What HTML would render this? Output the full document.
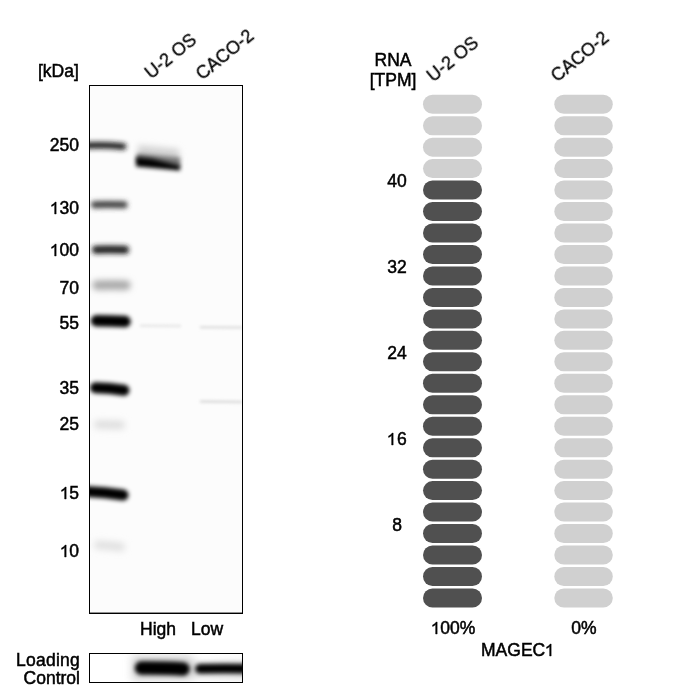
<!DOCTYPE html>
<html><head><meta charset="utf-8">
<style>
html,body{margin:0;padding:0;background:#fff;}
body{width:678px;height:687px;position:relative;overflow:hidden;font-family:"Liberation Sans",sans-serif;color:#000;}
.t{position:absolute;will-change:transform;line-height:1;white-space:nowrap;-webkit-text-stroke:0.5px #000;}
.rot{position:absolute;will-change:transform;font-size:18px;line-height:1;white-space:nowrap;transform-origin:0 100%;transform:rotate(-39deg);-webkit-text-stroke:0.3px #000;}
svg.main{position:absolute;left:0;top:0;}
</style></head><body>
<svg class="main" width="678" height="687" viewBox="0 0 678 687">
<defs>
<filter id="g12" filterUnits="userSpaceOnUse" x="0" y="0" width="678" height="687"><feGaussianBlur stdDeviation="1.2"/></filter>
<filter id="g15" filterUnits="userSpaceOnUse" x="0" y="0" width="678" height="687"><feGaussianBlur stdDeviation="1.5"/></filter>
<filter id="g17" filterUnits="userSpaceOnUse" x="0" y="0" width="678" height="687"><feGaussianBlur stdDeviation="1.7"/></filter>
<filter id="g20" filterUnits="userSpaceOnUse" x="0" y="0" width="678" height="687"><feGaussianBlur stdDeviation="2.0"/></filter>
<filter id="g22" filterUnits="userSpaceOnUse" x="0" y="0" width="678" height="687"><feGaussianBlur stdDeviation="2.2"/></filter>
<filter id="g25" filterUnits="userSpaceOnUse" x="0" y="0" width="678" height="687"><feGaussianBlur stdDeviation="2.5"/></filter>
<filter id="g30" filterUnits="userSpaceOnUse" x="0" y="0" width="678" height="687"><feGaussianBlur stdDeviation="3.0"/></filter>
<filter id="g35" filterUnits="userSpaceOnUse" x="0" y="0" width="678" height="687"><feGaussianBlur stdDeviation="3.5"/></filter>
<filter id="g40" filterUnits="userSpaceOnUse" x="0" y="0" width="678" height="687"><feGaussianBlur stdDeviation="4.0"/></filter>
<clipPath id="blot"><rect x="90" y="86" width="152" height="526"/></clipPath>
<clipPath id="lc"><rect x="90" y="654" width="152" height="28"/></clipPath>
</defs>
<rect x="89.5" y="85.5" width="153" height="528" fill="#fcfcfc" stroke="#000" stroke-width="1"/>
<rect x="90" y="612" width="152" height="1" fill="#909090"/>
<g clip-path="url(#blot)">
<path d="M87,145.5 Q104,144.5 123,146.4" stroke="#1a1a1a" stroke-width="6.5" stroke-linecap="round" fill="none" filter="url(#g25)"/>
<path d="M94.5,204.7 Q108,204.2 124,204.8" stroke="#404040" stroke-width="7" stroke-linecap="round" fill="none" filter="url(#g25)"/>
<path d="M96,249.7 Q110,249.3 125,249.8" stroke="#1e1e1e" stroke-width="8" stroke-linecap="round" fill="none" filter="url(#g25)"/>
<path d="M97,285.2 Q112,285 126,285.2" stroke="#a8a8a8" stroke-width="9.5" stroke-linecap="round" fill="none" filter="url(#g30)"/>
<path d="M96.5,320.8 Q110,320.8 125,321.5" stroke="#000" stroke-width="11.5" stroke-linecap="round" fill="none" filter="url(#g22)"/>
<path d="M95.5,387.8 Q110,388.2 124,390.3" stroke="#000" stroke-width="11" stroke-linecap="round" fill="none" filter="url(#g22)"/>
<path d="M98,424.6 Q110,424.6 121,425" stroke="#dcdcdc" stroke-width="8" stroke-linecap="round" fill="none" filter="url(#g35)"/>
<path d="M86,491.5 Q105,492.4 123,495" stroke="#000" stroke-width="11" stroke-linecap="round" fill="none" filter="url(#g22)"/>
<path d="M98,544.9 Q110,545.5 121,547" stroke="#dedede" stroke-width="8" stroke-linecap="round" fill="none" filter="url(#g35)"/>
<path d="M138,145 L179,149 L180,165 L138,158 Z" fill="#d3d3d3" opacity="1" filter="url(#g30)"/>
<path d="M137,153.5 L180,157.5 L180,167 L137,162 Z" fill="#7a7a7a" opacity="1" filter="url(#g22)"/>
<path d="M136,157 L152,158.8 L180,165.2 L180,170.5 L136,166.5 Z" fill="#000" opacity="1" filter="url(#g20)"/>
<path d="M141,325.7 Q160,325.7 180,326" stroke="#e6e6e6" stroke-width="2.5" stroke-linecap="round" fill="none" filter="url(#g15)"/>
<path d="M201,327.2 Q220,327.4 241,327.6" stroke="#dedede" stroke-width="2.5" stroke-linecap="round" fill="none" filter="url(#g15)"/>
<path d="M201,401.6 Q220,401.8 241,402" stroke="#dadada" stroke-width="2.5" stroke-linecap="round" fill="none" filter="url(#g15)"/>
</g>
<rect x="89.5" y="653.5" width="153" height="29" fill="#fff" stroke="#000" stroke-width="1"/>
<g clip-path="url(#lc)">
<path d="M132,656 L190,656 L196,664 L250,662 L250,678 L196,676 L190,680 L132,680 Z" fill="#d0d0d0" opacity="1" filter="url(#g40)"/>
<path d="M141.5,668 Q165,667.8 183,669" stroke="#000" stroke-width="13.5" stroke-linecap="round" fill="none" filter="url(#g22)"/>
<path d="M200,668.8 Q225,668.2 250,668.8" stroke="#000" stroke-width="9.5" stroke-linecap="round" fill="none" filter="url(#g22)"/>
</g>
<rect x="423" y="94.70" width="59" height="19" rx="9.5" fill="#d0d0d0"/>
<rect x="554.3" y="94.70" width="58.5" height="19" rx="9.5" fill="#d0d0d0"/>
<rect x="423" y="116.17" width="59" height="19" rx="9.5" fill="#d0d0d0"/>
<rect x="554.3" y="116.17" width="58.5" height="19" rx="9.5" fill="#d0d0d0"/>
<rect x="423" y="137.64" width="59" height="19" rx="9.5" fill="#d0d0d0"/>
<rect x="554.3" y="137.64" width="58.5" height="19" rx="9.5" fill="#d0d0d0"/>
<rect x="423" y="159.10" width="59" height="19" rx="9.5" fill="#d0d0d0"/>
<rect x="554.3" y="159.10" width="58.5" height="19" rx="9.5" fill="#d0d0d0"/>
<rect x="423" y="180.57" width="59" height="19" rx="9.5" fill="#505050"/>
<rect x="554.3" y="180.57" width="58.5" height="19" rx="9.5" fill="#d0d0d0"/>
<rect x="423" y="202.04" width="59" height="19" rx="9.5" fill="#505050"/>
<rect x="554.3" y="202.04" width="58.5" height="19" rx="9.5" fill="#d0d0d0"/>
<rect x="423" y="223.51" width="59" height="19" rx="9.5" fill="#505050"/>
<rect x="554.3" y="223.51" width="58.5" height="19" rx="9.5" fill="#d0d0d0"/>
<rect x="423" y="244.98" width="59" height="19" rx="9.5" fill="#505050"/>
<rect x="554.3" y="244.98" width="58.5" height="19" rx="9.5" fill="#d0d0d0"/>
<rect x="423" y="266.44" width="59" height="19" rx="9.5" fill="#505050"/>
<rect x="554.3" y="266.44" width="58.5" height="19" rx="9.5" fill="#d0d0d0"/>
<rect x="423" y="287.91" width="59" height="19" rx="9.5" fill="#505050"/>
<rect x="554.3" y="287.91" width="58.5" height="19" rx="9.5" fill="#d0d0d0"/>
<rect x="423" y="309.38" width="59" height="19" rx="9.5" fill="#505050"/>
<rect x="554.3" y="309.38" width="58.5" height="19" rx="9.5" fill="#d0d0d0"/>
<rect x="423" y="330.85" width="59" height="19" rx="9.5" fill="#505050"/>
<rect x="554.3" y="330.85" width="58.5" height="19" rx="9.5" fill="#d0d0d0"/>
<rect x="423" y="352.32" width="59" height="19" rx="9.5" fill="#505050"/>
<rect x="554.3" y="352.32" width="58.5" height="19" rx="9.5" fill="#d0d0d0"/>
<rect x="423" y="373.78" width="59" height="19" rx="9.5" fill="#505050"/>
<rect x="554.3" y="373.78" width="58.5" height="19" rx="9.5" fill="#d0d0d0"/>
<rect x="423" y="395.25" width="59" height="19" rx="9.5" fill="#505050"/>
<rect x="554.3" y="395.25" width="58.5" height="19" rx="9.5" fill="#d0d0d0"/>
<rect x="423" y="416.72" width="59" height="19" rx="9.5" fill="#505050"/>
<rect x="554.3" y="416.72" width="58.5" height="19" rx="9.5" fill="#d0d0d0"/>
<rect x="423" y="438.19" width="59" height="19" rx="9.5" fill="#505050"/>
<rect x="554.3" y="438.19" width="58.5" height="19" rx="9.5" fill="#d0d0d0"/>
<rect x="423" y="459.66" width="59" height="19" rx="9.5" fill="#505050"/>
<rect x="554.3" y="459.66" width="58.5" height="19" rx="9.5" fill="#d0d0d0"/>
<rect x="423" y="481.12" width="59" height="19" rx="9.5" fill="#505050"/>
<rect x="554.3" y="481.12" width="58.5" height="19" rx="9.5" fill="#d0d0d0"/>
<rect x="423" y="502.59" width="59" height="19" rx="9.5" fill="#505050"/>
<rect x="554.3" y="502.59" width="58.5" height="19" rx="9.5" fill="#d0d0d0"/>
<rect x="423" y="524.06" width="59" height="19" rx="9.5" fill="#505050"/>
<rect x="554.3" y="524.06" width="58.5" height="19" rx="9.5" fill="#d0d0d0"/>
<rect x="423" y="545.53" width="59" height="19" rx="9.5" fill="#505050"/>
<rect x="554.3" y="545.53" width="58.5" height="19" rx="9.5" fill="#d0d0d0"/>
<rect x="423" y="567.00" width="59" height="19" rx="9.5" fill="#505050"/>
<rect x="554.3" y="567.00" width="58.5" height="19" rx="9.5" fill="#d0d0d0"/>
<rect x="423" y="588.46" width="59" height="19" rx="9.5" fill="#505050"/>
<rect x="554.3" y="588.46" width="58.5" height="19" rx="9.5" fill="#d0d0d0"/>
</svg>
<div class="t" style="left:38px;top:63px;font-size:17.5px;">[kDa]</div>
<div class="rot" style="left:152.5px;top:64px;">U-2 OS</div>
<div class="rot" style="left:203.5px;top:65px;">CACO-2</div>
<div class="t" style="left:19.400000000000006px;width:60px;text-align:right;top:137px;font-size:17.5px;">250</div>
<div class="t" style="left:19.400000000000006px;width:60px;text-align:right;top:200px;font-size:17.5px;"><svg class="one" viewBox="0 0 1139 1409" style="width:0.5562em;height:0.688em;vertical-align:baseline;overflow:visible"><path transform="matrix(1 0 0 -0.961 -40 1409)" d="M763,0 L583,0 L583,1147 Q518,1085 415,1024 Q312,964 222,930 L222,1104 Q384,1180 495,1280 Q606,1379 648,1466 L763,1466 Z" fill="#000" stroke="#000" stroke-width="50"/></svg>30</div>
<div class="t" style="left:19.400000000000006px;width:60px;text-align:right;top:242px;font-size:17.5px;"><svg class="one" viewBox="0 0 1139 1409" style="width:0.5562em;height:0.688em;vertical-align:baseline;overflow:visible"><path transform="matrix(1 0 0 -0.961 -40 1409)" d="M763,0 L583,0 L583,1147 Q518,1085 415,1024 Q312,964 222,930 L222,1104 Q384,1180 495,1280 Q606,1379 648,1466 L763,1466 Z" fill="#000" stroke="#000" stroke-width="50"/></svg>00</div>
<div class="t" style="left:19.400000000000006px;width:60px;text-align:right;top:280px;font-size:17.5px;">70</div>
<div class="t" style="left:19.400000000000006px;width:60px;text-align:right;top:315px;font-size:17.5px;">55</div>
<div class="t" style="left:19.400000000000006px;width:60px;text-align:right;top:380px;font-size:17.5px;">35</div>
<div class="t" style="left:19.400000000000006px;width:60px;text-align:right;top:416px;font-size:17.5px;">25</div>
<div class="t" style="left:19.400000000000006px;width:60px;text-align:right;top:485px;font-size:17.5px;"><svg class="one" viewBox="0 0 1139 1409" style="width:0.5562em;height:0.688em;vertical-align:baseline;overflow:visible"><path transform="matrix(1 0 0 -0.961 -40 1409)" d="M763,0 L583,0 L583,1147 Q518,1085 415,1024 Q312,964 222,930 L222,1104 Q384,1180 495,1280 Q606,1379 648,1466 L763,1466 Z" fill="#000" stroke="#000" stroke-width="50"/></svg>5</div>
<div class="t" style="left:19.400000000000006px;width:60px;text-align:right;top:543px;font-size:17.5px;"><svg class="one" viewBox="0 0 1139 1409" style="width:0.5562em;height:0.688em;vertical-align:baseline;overflow:visible"><path transform="matrix(1 0 0 -0.961 -40 1409)" d="M763,0 L583,0 L583,1147 Q518,1085 415,1024 Q312,964 222,930 L222,1104 Q384,1180 495,1280 Q606,1379 648,1466 L763,1466 Z" fill="#000" stroke="#000" stroke-width="50"/></svg>0</div>
<div class="t" style="left:140px;top:621px;font-size:17.5px;">High</div>
<div class="t" style="left:191px;top:621px;font-size:17.5px;">Low</div>
<div class="t" style="left:0px;width:80px;text-align:right;top:652px;font-size:17.5px;letter-spacing:0.25px;">Loading</div>
<div class="t" style="left:0px;width:80px;text-align:right;top:669.5px;font-size:17.5px;">Control</div>
<div class="t" style="left:352.5px;width:80px;text-align:center;top:51.5px;font-size:17.5px;">RNA</div>
<div class="t" style="left:352.5px;width:80px;text-align:center;top:72px;font-size:17.5px;">[TPM]</div>
<div class="rot" style="left:435px;top:66.5px;">U-2 OS</div>
<div class="rot" style="left:559px;top:66.5px;">CACO-2</div>
<div class="t" style="left:367.0px;width:60px;text-align:center;top:172.5px;font-size:17.5px;">40</div>
<div class="t" style="left:367.0px;width:60px;text-align:center;top:258.5px;font-size:17.5px;">32</div>
<div class="t" style="left:367.0px;width:60px;text-align:center;top:344.5px;font-size:17.5px;">24</div>
<div class="t" style="left:367.0px;width:60px;text-align:center;top:431px;font-size:17.5px;"><svg class="one" viewBox="0 0 1139 1409" style="width:0.5562em;height:0.688em;vertical-align:baseline;overflow:visible"><path transform="matrix(1 0 0 -0.961 -40 1409)" d="M763,0 L583,0 L583,1147 Q518,1085 415,1024 Q312,964 222,930 L222,1104 Q384,1180 495,1280 Q606,1379 648,1466 L763,1466 Z" fill="#000" stroke="#000" stroke-width="50"/></svg>6</div>
<div class="t" style="left:367.0px;width:60px;text-align:center;top:517px;font-size:17.5px;">8</div>
<div class="t" style="left:412.5px;width:80px;text-align:center;top:620px;font-size:17.5px;"><svg class="one" viewBox="0 0 1139 1409" style="width:0.5562em;height:0.688em;vertical-align:baseline;overflow:visible"><path transform="matrix(1 0 0 -0.961 -40 1409)" d="M763,0 L583,0 L583,1147 Q518,1085 415,1024 Q312,964 222,930 L222,1104 Q384,1180 495,1280 Q606,1379 648,1466 L763,1466 Z" fill="#000" stroke="#000" stroke-width="50"/></svg>00%</div>
<div class="t" style="left:543.5px;width:80px;text-align:center;top:620px;font-size:17.5px;">0%</div>
<div class="t" style="left:458.0px;width:120px;text-align:center;top:641.5px;font-size:17.5px;">MAGEC<svg class="one" viewBox="0 0 1139 1409" style="width:0.5562em;height:0.688em;vertical-align:baseline;overflow:visible"><path transform="matrix(1 0 0 -0.961 -40 1409)" d="M763,0 L583,0 L583,1147 Q518,1085 415,1024 Q312,964 222,930 L222,1104 Q384,1180 495,1280 Q606,1379 648,1466 L763,1466 Z" fill="#000" stroke="#000" stroke-width="50"/></svg></div>
</body></html>
